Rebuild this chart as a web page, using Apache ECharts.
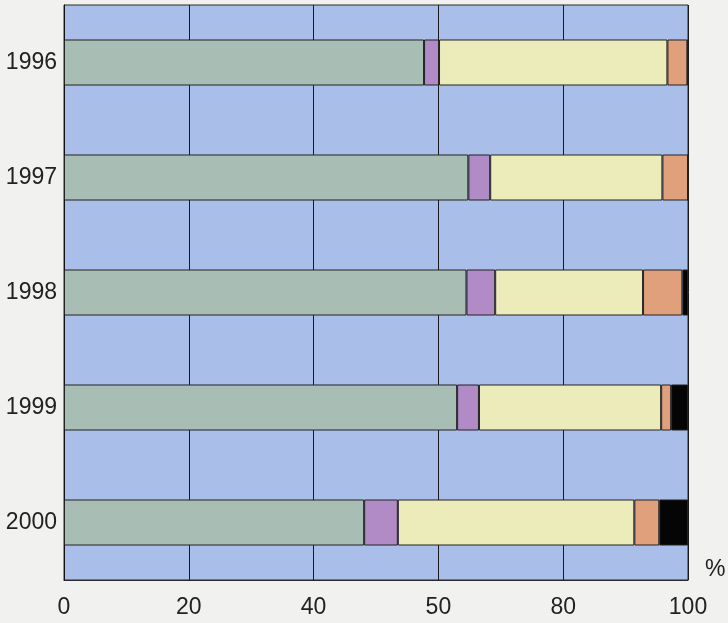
<!DOCTYPE html>
<html><head><meta charset="utf-8">
<script src="https://cdn.jsdelivr.net/npm/echarts@6/dist/echarts.min.js"></script>
<style>html,body{margin:0;padding:0;background:#f1f1ef;}#c{width:728px;height:623px;}</style>
</head><body><div id="c"></div>
<script>
const years = ['1996','1997','1998','1999','2000'];
const tickLabels = ['0','20','40','50','80','100'];
const green  = [57.7, 64.8, 64.5, 63.0, 48.1];
const purple = [2.4, 3.5, 4.6, 3.5, 5.4];
const yellow = [36.6, 27.6, 23.7, 29.2, 37.9];
const orange = [3.2, 4.1, 6.3, 1.6, 4.0];
const black  = [0.1, 0.0, 0.9, 2.7, 4.6];

const colors = ['#a8beb5', '#b08bc6', '#ecebba', '#e1a07c', '#050505'];
const seriesData = [green, purple, yellow, orange, black];

const chart = echarts.init(document.getElementById('c'));
chart.setOption({
  backgroundColor: '#f1f1ef',
  animation: false,
  grid: {left: 64, right: 40, top: 5, bottom: 43, show: true, backgroundColor: '#a9bee8', borderColor: '#2a2a2a', borderWidth: 1},
  xAxis: {
    type: 'value', min: 0, max: 100, interval: 20,
    axisLine: {show: true, lineStyle: {color: '#2a2a2a'}},
    axisTick: {show: false},
    splitLine: {show: true, lineStyle: {color: '#1a1a1a', width: 1}},
    axisLabel: {
      margin: 16, fontFamily: 'Liberation Sans', fontSize: 23, color: '#222',
      formatter: function (v) { return tickLabels[Math.round(v / 20)]; }
    }
  },
  yAxis: {
    type: 'category', data: years, inverse: true,
    axisLine: {show: true, lineStyle: {color: '#111'}},
    axisTick: {show: false},
    axisLabel: {margin: 7, fontFamily: 'Liberation Sans', fontSize: 23, color: '#222'}
  },
  series: seriesData.map((d, i) => ({
    type: 'bar', stack: 'total', data: d, barWidth: '40%',
    itemStyle: {color: colors[i], borderColor: '#222', borderWidth: 1}
  })),
  graphic: [{type: 'text', left: 705, top: 558, style: {text: '%', fontFamily: 'Liberation Sans', fontSize: 23, fill: '#222'}}]
});
</script></body></html>
